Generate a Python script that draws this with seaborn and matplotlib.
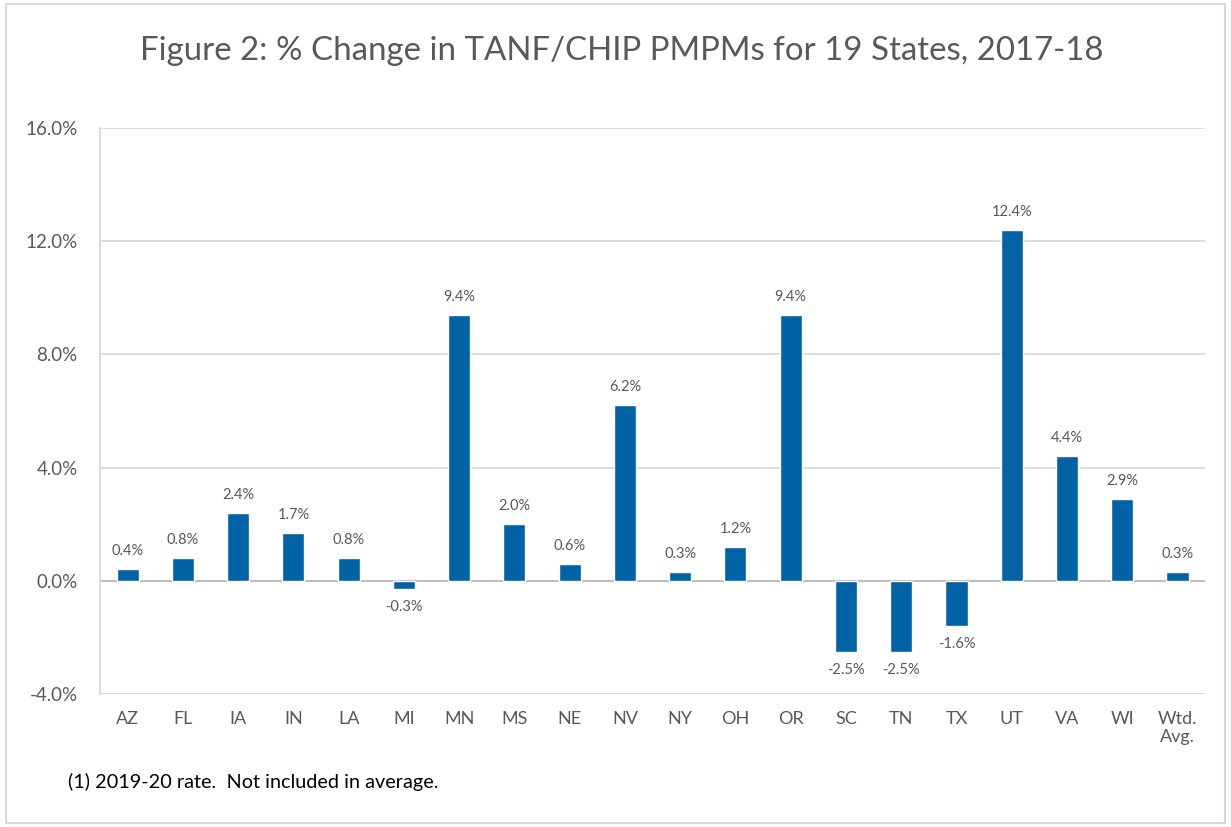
import matplotlib
matplotlib.use("Agg")
import matplotlib.pyplot as plt
import seaborn as sns
import pandas as pd
from matplotlib.patches import Rectangle
from matplotlib.ticker import FuncFormatter

states = ["AZ", "FL", "IA", "IN", "LA", "MI", "MN", "MS", "NE", "NV",
          "NY", "OH", "OR", "SC", "TN", "TX", "UT", "VA", "WI", "Wtd.\nAvg."]
pct_change = [0.4, 0.8, 2.4, 1.7, 0.8, -0.3, 9.4, 2.0, 0.6, 6.2,
              0.3, 1.2, 9.4, -2.5, -2.5, -1.6, 12.4, 4.4, 2.9, 0.3]
y_ticks = [-4.0, 0.0, 4.0, 8.0, 12.0, 16.0]
title = "Figure 2: % Change in TANF/CHIP PMPMs for 19 States, 2017-18"
footnote = "(1) 2019-20 rate.  Not included in average."

sns.set_style("white")
plt.rcParams["font.family"] = ["Lato", "DejaVu Sans"]

txt = "#595959"
bar_color = "#0063A5"

fig = plt.figure(figsize=(12.31, 8.27), dpi=100)
ax = fig.add_axes([0.0812, 0.1608, 0.8978, 0.6844])

df = pd.DataFrame({"state": states, "value": pct_change})
sns.barplot(data=df, x="state", y="value", color=bar_color, width=0.4,
            saturation=1, ax=ax, zorder=3)

ax.set_ylim(y_ticks[0], y_ticks[-1])
ax.set_xlim(-0.5, len(states) - 0.5)
ax.set_yticks(y_ticks)
ax.yaxis.set_major_formatter(FuncFormatter(lambda v, p: f"{v:.1f}%"))
ax.grid(axis="y", color="#d9d9d9", linewidth=1.3, zorder=0)
ax.axhline(0, color="#bfbfbf", linewidth=1.5, zorder=2)
for s in ["top", "right", "bottom"]:
    ax.spines[s].set_visible(False)
ax.spines["left"].set_color("#d9d9d9")
ax.spines["left"].set_linewidth(1.3)
ax.set_xlabel("")
ax.set_ylabel("")
ax.tick_params(axis="both", length=0, labelsize=13, labelcolor=txt)
ax.tick_params(axis="y", pad=16, labelsize=13.5)
ax.tick_params(axis="x", pad=12)

for i, v in enumerate(pct_change):
    if v >= 0:
        ax.annotate(f"{v:.1f}%", (i, v), xytext=(0, 8), textcoords="offset points",
                    ha="center", va="bottom", fontsize=10.5, color=txt)
    else:
        ax.annotate(f"{v:.1f}%", (i, v), xytext=(0, -8), textcoords="offset points",
                    ha="center", va="top", fontsize=10.5, color=txt)

fig.text(0.505, 0.938, title, ha="center", va="center", fontsize=23.8, color=txt)
fig.text(0.055, 0.054, footnote, ha="left", va="center", fontsize=14.3, color="#000000")

fig.patches.append(Rectangle((0.005, 0.005), 0.99, 0.99, transform=fig.transFigure,
                             fill=False, edgecolor="#d9d9d9", linewidth=1.5))

fig.savefig("out.png", dpi=100, facecolor="white")
